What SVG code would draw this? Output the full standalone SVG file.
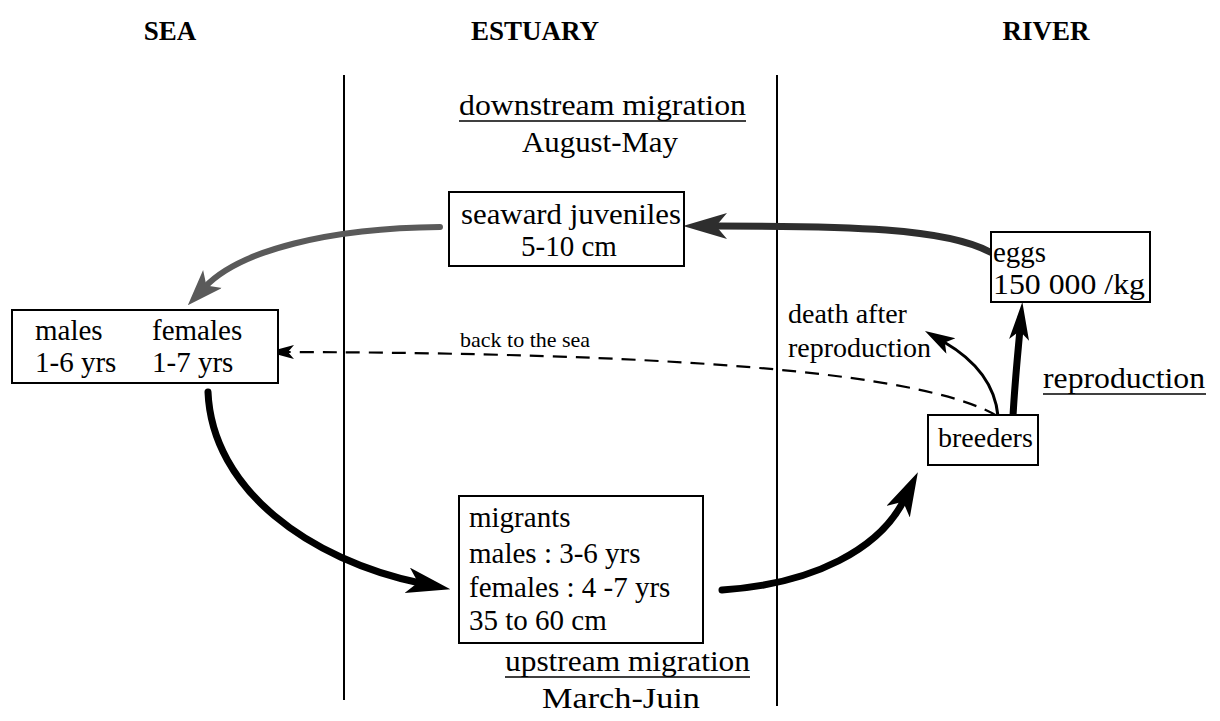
<svg xmlns="http://www.w3.org/2000/svg" width="1220" height="721" viewBox="0 0 1220 721">
<style>
text{font-family:"Liberation Serif","Times New Roman",serif;fill:#000}
.h{font-size:27px;font-weight:bold}
.t{font-size:29px}
.m{font-size:28px}
.s{font-size:22px}
.box{fill:#fff;stroke:#000;stroke-width:2}
.div{stroke:#000;stroke-width:2}
.ul{stroke:#000;stroke-width:1.6}
.thick{fill:none;stroke:#000;stroke-width:7;stroke-linecap:round}
.thin{fill:none;stroke:#000;stroke-width:3;stroke-linecap:round}
.dash{fill:none;stroke:#000;stroke-width:2.2;stroke-dasharray:14 9}
</style>
<defs>
<marker id="hL" markerUnits="userSpaceOnUse" markerWidth="50" markerHeight="30" refX="13" refY="13" orient="auto"><path d="M0,0 L44,13 L0,26 L11,13 Z" fill="#000"/></marker>
<marker id="hLd" markerUnits="userSpaceOnUse" markerWidth="50" markerHeight="30" refX="13" refY="13" orient="auto"><path d="M0,0 L44,13 L0,26 L11,13 Z" fill="#2e2e2e"/></marker>
<marker id="hLg" markerUnits="userSpaceOnUse" markerWidth="42" markerHeight="30" refX="11" refY="13" orient="auto"><path d="M0,0 L36,13 L0,26 L9,13 Z" fill="#5a5a5a"/></marker>
<marker id="hM" markerUnits="userSpaceOnUse" markerWidth="42" markerHeight="22" refX="11" refY="10" orient="auto"><path d="M0,0 L38,10 L0,20 L9,10 Z" fill="#000"/></marker>
<marker id="hS" markerUnits="userSpaceOnUse" markerWidth="34" markerHeight="22" refX="8" refY="9" orient="auto"><path d="M0,0 L30,9 L0,18 L7,9 Z" fill="#000"/></marker>
<marker id="hXS" markerUnits="userSpaceOnUse" markerWidth="30" markerHeight="16" refX="7" refY="7" orient="auto"><path d="M0,0 L26,7 L0,14 L6,7 Z" fill="#000"/></marker>
</defs>

<g id="zones">
<text class="h" x="170" y="40" text-anchor="middle">SEA</text>
<text class="h" x="535" y="40" text-anchor="middle">ESTUARY</text>
<text class="h" x="1046" y="40" text-anchor="middle">RIVER</text>
<line class="div" x1="344" y1="75" x2="344" y2="700"/>
<line class="div" x1="777" y1="75" x2="777" y2="706"/>
</g>

<g id="labels">
<text class="t" x="459" y="115" textLength="287" lengthAdjust="spacingAndGlyphs">downstream migration</text>
<line class="ul" x1="459" y1="121" x2="746" y2="121"/>
<text class="t" x="522" y="152" textLength="156" lengthAdjust="spacingAndGlyphs">August-May</text>
<text class="t" x="505" y="671" textLength="245" lengthAdjust="spacingAndGlyphs">upstream migration</text>
<line class="ul" x1="505" y1="677" x2="750" y2="677"/>
<text class="t" x="542" y="708" textLength="158" lengthAdjust="spacingAndGlyphs">March-Juin</text>
<text class="m" x="788" y="323">death after</text>
<text class="m" x="788" y="357">reproduction</text>
<text class="t" x="1043" y="388" textLength="162" lengthAdjust="spacingAndGlyphs">reproduction</text>
<line class="ul" x1="1043" y1="394" x2="1206" y2="394"/>
<text class="s" x="460" y="347">back to the sea</text>
</g>

<g id="connectors">
<path class="thick" style="stroke:#2e2e2e" d="M990,252 C945,228 850,226 714,226" marker-end="url(#hLd)"/>
<path class="thick" style="stroke:#5a5a5a;stroke-width:6" d="M440,227 C330,228 240,250 205,287" marker-end="url(#hLg)"/>
<path class="dash" d="M997,416 C920,370 650,353 287,352" marker-end="url(#hXS)"/>
<path class="thick" d="M208,392 C212,490 310,560 420,583" marker-end="url(#hL)"/>
<path class="thick" d="M722,590 C815,584 880,548 904,500" marker-end="url(#hL)"/>
<path class="thin" d="M998,416 C995,385 975,360 944,342" marker-end="url(#hS)"/>
<path class="thick" d="M1013,416 C1015,380 1018,352 1020,329" marker-end="url(#hM)"/>
</g>

<g id="juveniles">
<rect class="box" x="449" y="192" width="235" height="74"/>
<text class="t" x="461" y="224" textLength="220" lengthAdjust="spacingAndGlyphs">seaward juveniles</text>
<text class="t" x="569" y="256" text-anchor="middle">5-10 cm</text>
</g>

<g id="eggs">
<rect class="box" x="991" y="232" width="159" height="70"/>
<text class="t" x="993" y="262">eggs</text>
<text class="t" x="993" y="294" textLength="152" lengthAdjust="spacingAndGlyphs">150 000 /kg</text>
</g>

<g id="adults">
<rect class="box" x="12" y="310" width="266" height="73"/>
<text class="t" x="35" y="340">males</text>
<text class="t" x="152" y="340">females</text>
<text class="t" x="35" y="372">1-6 yrs</text>
<text class="t" x="152" y="372">1-7 yrs</text>
</g>

<g id="migrants">
<rect class="box" x="459" y="496" width="244" height="147"/>
<text class="t" x="469" y="527">migrants</text>
<text class="t" x="469" y="563">males : 3-6 yrs</text>
<text class="t" x="469" y="597">females : 4 -7 yrs</text>
<text class="t" x="469" y="630">35 to 60 cm</text>
</g>

<g id="breeders">
<rect class="box" x="928" y="415" width="110" height="50"/>
<text class="m" x="938" y="447">breeders</text>
</g>
</svg>
